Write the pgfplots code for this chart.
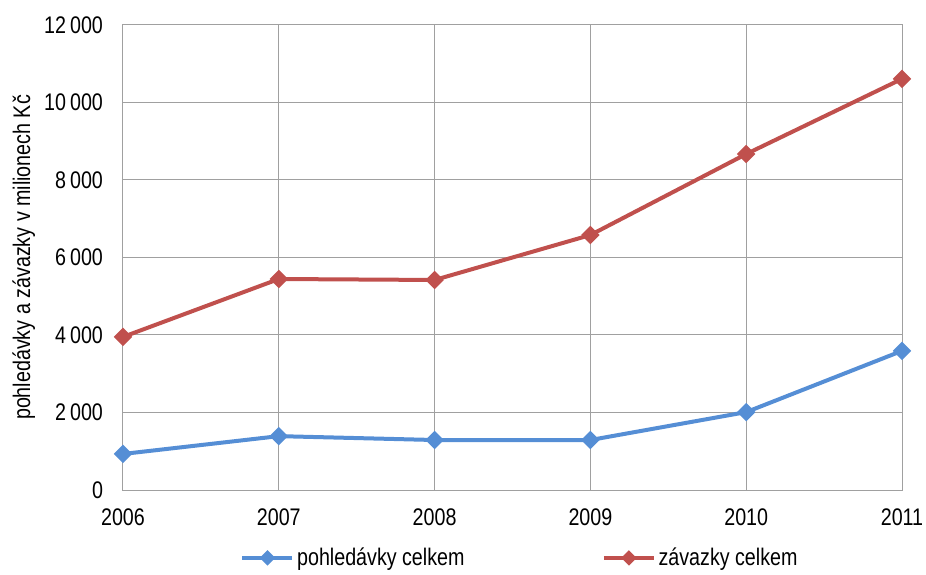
\documentclass[border=0pt]{standalone}
\usepackage{fontspec}
\setmainfont{Liberation Sans}[FakeStretch=0.82]
\usepackage{pgfplots}
\pgfplotsset{compat=1.18}
\definecolor{cblue}{RGB}{85,142,213}
\definecolor{cred}{RGB}{192,80,77}
\definecolor{cgrid}{RGB}{160,160,160}
\begin{document}
\begin{tikzpicture}
\begin{axis}[
  scale only axis,
  width=584.25pt, height=348.75pt,
  xmin=2006, xmax=2011, ymin=0, ymax=12000,
  xtick={2006,2007,2008,2009,2010,2011},
  ytick={0,2000,4000,6000,8000,10000,12000},
  scaled ticks=false,
  xticklabel style={/pgf/number format/1000 sep={}, yshift=-10.5pt},
  yticklabel style={/pgf/number format/1000 sep={\,}, xshift=-11.5pt},
  /pgf/number format/assume math mode=true,
  tick label style={font=\fontsize{18}{20}\selectfont},
  major tick length=0pt,
  grid=major,
  grid style={cgrid, line width=0.75pt},
  axis line style={cgrid, line width=0.75pt},
  ylabel={pohledávky a závazky v milionech Kč},
  ylabel style={font=\fontsize{18}{20}\selectfont},
  legend columns=2,
  legend style={draw=none, at={(0.51,-0.146)}, anchor=center,
    font=\fontsize{18}{20}\selectfont,
    /tikz/every even column/.append style={column sep=101pt}},
  legend image code/.code={\draw[mark repeat=2,mark phase=2, mark size=2.6pt] plot coordinates {(0cm,0cm)(0.66cm,0cm)(1.32cm,0cm)};},
]
\addplot[cblue, line width=3pt, mark=square*, mark size=3.4pt, mark options={rotate=45, solid}]
  coordinates {(2006,930) (2007,1390) (2008,1290) (2009,1290) (2010,2010) (2011,3590)};
\addlegendentry{pohledávky celkem}
\addplot[cred, line width=3pt, mark=square*, mark size=3.4pt, mark options={rotate=45, solid}]
  coordinates {(2006,3950) (2007,5445) (2008,5420) (2009,6580) (2010,8670) (2011,10610)};
\addlegendentry{závazky celkem}
\coordinate (ll) at (rel axis cs:0,0);
\coordinate (ur) at (rel axis cs:1,1);
\end{axis}
\pgfresetboundingbox
\path[use as bounding box] ([xshift=-92.25pt,yshift=-63pt]ll) rectangle ([xshift=18pt,yshift=18.75pt]ur);
\end{tikzpicture}
\end{document}
